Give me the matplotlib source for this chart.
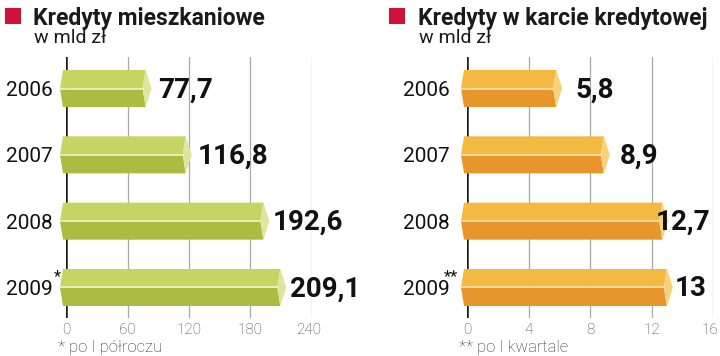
import numpy as np
import matplotlib.pyplot as plt
from matplotlib.patches import Polygon, Rectangle

# dane
years = ['2006', '2007', '2008', '2009']
mieszkaniowe = [77.7, 116.8, 192.6, 209.1]
karty = [5.8, 8.9, 12.7, 13.0]
labels_m = ['77,7', '116,8', '192,6', '209,1']
labels_k = ['5,8', '8,9', '12,7', '13']
ticks_m = [0, 60, 120, 180, 240]
ticks_k = [0, 4, 8, 12, 16]

W, H = 720, 356
fig = plt.figure(figsize=(W / 100, H / 100), dpi=100)
fig.patch.set_facecolor('white')


def fx(px):
    return px / W


def fy(py):
    return 1 - py / H


green = {'top': '#c4d564', 'bot': '#abbc42', 'tip': '#dde79c', 'line': '#f2f6d6'}
orange = {'top': '#f4b943', 'bot': '#e8962b', 'tip': '#f8d27a', 'line': '#fbe6c0'}


def panel(x0px, xmax, values, labels, ticks, colors, note, star, year_dx, star_dx, label_dx):
    ax = fig.add_axes([fx(x0px), (H - 318) / H, 246 / W, 261 / H])
    ax.set_xlim(0, xmax)
    ax.set_ylim(3.46, -0.475)
    ax.axis('off')
    kx = xmax / 246.0  # jednostki na piksel
    # siatka
    for t in ticks[1:]:
        ax.plot([t, t], [-0.475, 3.46], color='#a8a8a8', lw=0.9, zorder=1)
    ax.plot([0, 0], [-0.475, 3.46], color='#1a1a1a', lw=1.8, zorder=1)
    hh = 0.279
    for i, v in enumerate(values):
        c = i
        top, bot = c - hh, c + hh
        ax.add_patch(Polygon([(-6 * kx, c), (-3 * kx, top), (v, top), (v - 3 * kx, c)],
                             closed=True, fc=colors['top'], ec='none', zorder=3, clip_on=False))
        ax.add_patch(Polygon([(-6 * kx, c), (v - 3 * kx, c), (v, bot), (-3 * kx, bot)],
                             closed=True, fc=colors['bot'], ec='none', zorder=3, clip_on=False))
        ax.add_patch(Polygon([(v, top), (v + 6 * kx, c), (v, bot), (v - 3 * kx, c)],
                             closed=True, fc=colors['tip'], ec='none', zorder=4, clip_on=False))
        ax.plot([-6 * kx, v - 3 * kx], [c, c], color=colors['line'], lw=1.1, zorder=5,
                clip_on=False)
        ax.text(v + label_dx[i] * kx, c + 0.02, labels[i], fontsize=20, fontweight='bold',
                family='Roboto', color='#111111', va='center', ha='left', zorder=6,
                clip_on=False)
    for i, y in enumerate(years):
        ax.text(year_dx * kx, i + 0.03, y, fontsize=15,
                family='Roboto', color='#111111', va='center', ha='right', clip_on=False)
    ax.text(star_dx * kx, 3 - 0.16, star, fontsize=12,
            family='Roboto', color='#111111', va='center', ha='left', clip_on=False)
    for j, t in enumerate(ticks):
        tx = t - 3 * kx if j == len(ticks) - 1 else t
        ax.text(tx, 3.64, str(t), fontsize=11, family='Roboto', fontweight='light',
                color='#444444', ha='center', va='center', clip_on=False)
    ax.text(-8 * kx, 3.9, note, fontsize=12, family='Roboto', fontweight='light',
            color='#333333', ha='left', va='center', clip_on=False)


panel(66, 240, mieszkaniowe, labels_m, ticks_m, green,
      '* po I półroczu', '*', -13, -12, [12, 12, 9, 10])
panel(467, 16, karty, labels_k, ticks_k, orange,
      '** po I kwartale', '**', -17, -23, [19, 16, -7, 8])

# tytuly
for sq_x, tx, title in [(5, 33, 'Kredyty mieszkaniowe'), (389, 418, 'Kredyty w karcie kredytowej')]:
    fig.patches.append(Rectangle((fx(sq_x), fy(24)), 16 / W, 16 / H, transform=fig.transFigure,
                                 fc='#d0103a', ec='none'))
    fig.text(fx(tx), fy(25), title, fontsize=16.5, fontweight='bold', family='Roboto',
             color='#1a1a1a', ha='left', va='baseline')
    fig.text(fx(tx + 1), fy(43), 'w mld zł', fontsize=14, family='Roboto',
             color='#1a1a1a', ha='left', va='baseline')

fig.savefig('out.png', dpi=100)
